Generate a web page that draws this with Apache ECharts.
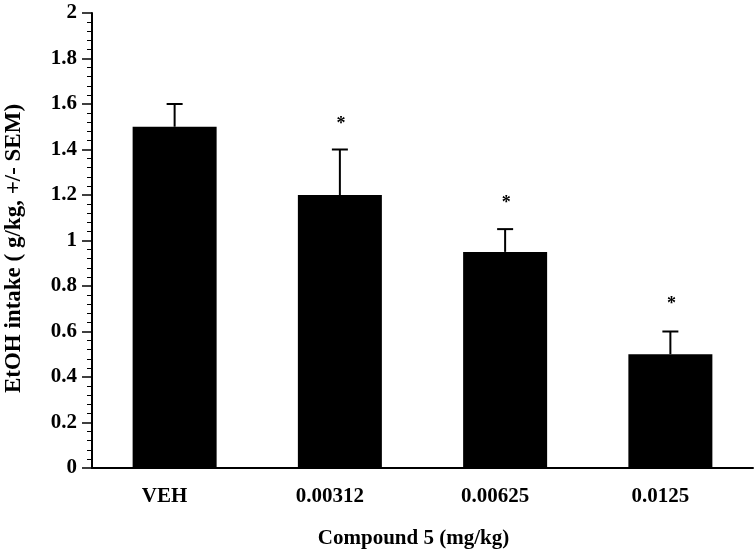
<!DOCTYPE html>
<html>
<head>
<meta charset="utf-8">
<script src="https://cdn.jsdelivr.net/npm/echarts@6/dist/echarts.min.js"></script>
<style>
html,body{margin:0;padding:0;background:#fff;}
#chart{width:754px;height:555px;}
</style>
</head>
<body>
<div id="chart"></div>
<script>
var categories = ['VEH', '0.00312', '0.00625', '0.0125'];
var means = [1.5, 1.2, 0.95, 0.5];
var sems = [0.1, 0.2, 0.1, 0.1];
var starLevels = [null, 1.53, 1.18, 0.735];
var yTicks = [0, 0.2, 0.4, 0.6, 0.8, 1, 1.2, 1.4, 1.6, 1.8, 2];

var FONT = '"Liberation Serif", "Times New Roman", serif';
var chart = echarts.init(document.getElementById('chart'), null, {renderer: 'canvas'});

var errData = categories.map(function (c, i) { return [i, means[i], means[i] + sems[i]]; });
var starData = [];
categories.forEach(function (c, i) { if (starLevels[i] !== null) starData.push([i, starLevels[i]]); });

chart.setOption({
  animation: false,
  backgroundColor: '#fff',
  grid: {left: 92, right: 1, top: 13, bottom: 87, containLabel: false, outerBoundsMode: 'none'},
  xAxis: {
    type: 'category',
    data: categories,
    axisLine: {lineStyle: {color: '#000', width: 2}},
    axisTick: {show: false},
    axisLabel: {color: '#000', fontFamily: FONT, fontWeight: 'bold', fontSize: 21, margin: 18, padding: [0, 20, 0, 0]},
    name: 'Compound 5 (mg/kg)',
    nameLocation: 'middle',
    nameGap: 60,
    nameTextStyle: {color: '#000', fontFamily: FONT, fontWeight: 'bold', fontSize: 21, padding: [0, 18, 0, 0]}
  },
  yAxis: {
    type: 'value',
    min: yTicks[0],
    max: yTicks[yTicks.length - 1],
    interval: yTicks[1] - yTicks[0],
    splitLine: {show: false},
    axisLine: {show: true, lineStyle: {color: '#000', width: 2}},
    axisTick: {show: true, inside: false, length: 10, lineStyle: {color: '#000', width: 1.5}},
    minorTick: {show: true, splitNumber: 5, length: 5, lineStyle: {color: '#000', width: 1}},
    axisLabel: {color: '#000', fontFamily: FONT, fontWeight: 'bold', fontSize: 21, margin: 15},
    name: 'EtOH intake ( g/kg, +/- SEM)',
    nameLocation: 'middle',
    nameGap: 66,
    nameTextStyle: {color: '#000', fontFamily: FONT, fontWeight: 'bold', fontSize: 23, padding: [0, 16, 0, 0]}
  },
  series: [
    {
      type: 'bar',
      data: means,
      barWidth: 84,
      itemStyle: {color: '#000'},
      z: 2
    },
    {
      type: 'custom',
      data: errData,
      z: 3,
      renderItem: function (params, api) {
        var x = api.value(0);
        var p0 = api.coord([x, api.value(1)]);
        var p1 = api.coord([x, api.value(2)]);
        var half = 8;
        var style = {stroke: '#000', lineWidth: 2};
        return {
          type: 'group',
          children: [
            {type: 'line', shape: {x1: p0[0], y1: p0[1], x2: p1[0], y2: p1[1]}, style: style},
            {type: 'line', shape: {x1: p1[0] - half, y1: p1[1], x2: p1[0] + half, y2: p1[1]}, style: style}
          ]
        };
      }
    },
    {
      type: 'custom',
      data: starData,
      z: 3,
      renderItem: function (params, api) {
        var p = api.coord([api.value(0), api.value(1)]);
        return {
          type: 'text',
          x: p[0] + 1,
          y: p[1] + 4,
          style: {text: '*', fill: '#000', font: 'bold 18px ' + FONT, align: 'center', verticalAlign: 'middle'}
        };
      }
    }
  ]
});
</script>
</body>
</html>
